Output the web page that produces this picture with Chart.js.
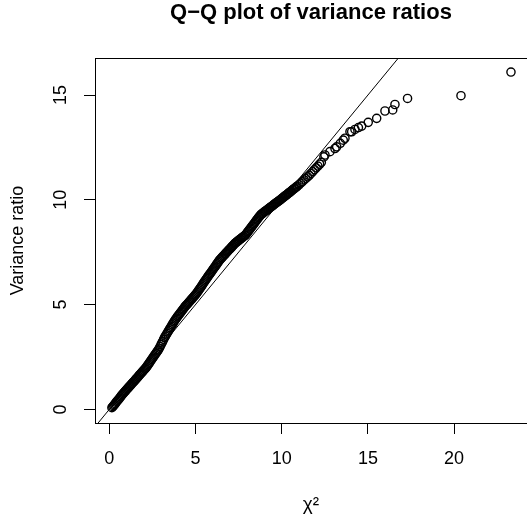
<!DOCTYPE html>
<html>
<head>
<meta charset="utf-8">
<script src="https://cdn.jsdelivr.net/npm/chart.js@4"></script>
<style>
  html, body { margin: 0; padding: 0; background: #fff; }
  #wrap { width: 527px; height: 523px; }
</style>
</head>
<body>
<div id="wrap"><canvas id="qq" width="527" height="523"></canvas></div>
<script>
// ===== Q-Q plot of variance ratios =====
const FONT = 'Liberation Sans, Arial, Helvetica, sans-serif';

// theoretical chi-square quantiles (x) and sorted variance ratios (y)
const qx = [
    0.15, 0.20, 0.25, 0.30, 0.35, 0.40, 0.45, 0.50, 0.55, 0.60, 0.65, 0.70, 0.75, 0.80,
    0.85, 0.90, 0.95, 1.00, 1.05, 1.10, 1.15, 1.20, 1.25, 1.30, 1.35, 1.40, 1.45, 1.50,
    1.55, 1.60, 1.65, 1.70, 1.75, 1.80, 1.85, 1.90, 1.95, 2.00, 2.05, 2.10, 2.15,
    2.20, 2.25, 2.30, 2.35, 2.40, 2.45, 2.50, 2.55, 2.60, 2.65, 2.70, 2.75, 2.80, 2.85,
    2.90, 2.95, 3.00, 3.05, 3.10, 3.15, 3.20, 3.25,
    3.30, 3.35, 3.40, 3.45, 3.50, 3.55, 3.60, 3.65, 3.70, 3.75, 3.80,
    3.85, 3.90, 3.95, 4.00, 4.05, 4.10, 4.15, 4.20, 4.25, 4.30, 4.35, 4.40,
    4.45, 4.50, 4.55, 4.60, 4.65, 4.70, 4.75, 4.80, 4.85, 4.90, 4.95, 5.00, 5.05,
    5.10, 5.15, 5.20, 5.25, 5.30, 5.35, 5.40, 5.45, 5.50, 5.55, 5.60, 5.65,
    5.70, 5.75, 5.80, 5.85, 5.90, 5.95, 6.00, 6.05, 6.10, 6.15, 6.20, 6.25, 6.30, 6.35, 6.40,
    6.45, 6.50, 6.55, 6.60, 6.65, 6.70, 6.75, 6.80, 6.85, 6.90, 6.95, 7.00, 7.05, 7.10, 7.15, 7.20, 7.25, 7.30,
    7.35, 7.40, 7.45, 7.50, 7.55, 7.60, 7.65, 7.70, 7.75, 7.80, 7.85, 7.90,
    7.95, 8.00, 8.05, 8.10, 8.15, 8.20, 8.25, 8.30, 8.35, 8.40, 8.45, 8.50, 8.55, 8.60, 8.65, 8.70, 8.75, 8.80,
    8.85, 8.90, 8.95, 9.00, 9.05, 9.10, 9.15, 9.20, 9.25, 9.30, 9.35, 9.40, 9.45, 9.50, 9.55, 9.60,
    9.65, 9.70, 9.75, 9.80, 9.85, 9.90,
    9.95, 10.00, 10.05, 10.10, 10.15, 10.20, 10.25, 10.30, 10.35, 10.40, 10.45, 10.50, 10.55, 10.60,
    10.65, 10.70, 10.75, 10.80, 10.85, 10.90,
    11.00, 11.10, 11.20, 11.30, 11.40, 11.50, 11.60,
    11.70, 11.80, 11.90, 12.00, 12.10, 12.20, 12.30,
    12.45, 12.51, 12.80, 13.09, 13.19, 13.40, 13.57, 13.67, 13.96, 14.06, 14.25,
    14.45, 14.64, 15.02, 15.51, 15.99, 16.44, 16.57, 17.30, 20.40, 23.30
];
const qy = [
    0.08, 0.13, 0.18, 0.23, 0.28, 0.34, 0.39, 0.44, 0.49, 0.54, 0.60, 0.65, 0.70, 0.75,
    0.80, 0.85, 0.89, 0.94, 0.99, 1.03, 1.08, 1.12, 1.17, 1.22, 1.26, 1.31, 1.35, 1.40,
    1.45, 1.49, 1.54, 1.59, 1.64, 1.68, 1.73, 1.78, 1.82, 1.87, 1.92, 1.96, 2.01,
    2.07, 2.13, 2.19, 2.25, 2.31, 2.37, 2.43, 2.49, 2.55, 2.61, 2.67, 2.73, 2.79, 2.84,
    2.92, 3.00, 3.09, 3.17, 3.25, 3.34, 3.42, 3.49,
    3.56, 3.63, 3.70, 3.77, 3.84, 3.90, 3.97, 4.04, 4.11, 4.18, 4.25,
    4.31, 4.36, 4.42, 4.47, 4.53, 4.58, 4.64, 4.69, 4.75, 4.80, 4.86, 4.91,
    4.96, 5.00, 5.05, 5.10, 5.14, 5.19, 5.24, 5.28, 5.33, 5.38, 5.43, 5.47, 5.52,
    5.58, 5.64, 5.70, 5.76, 5.82, 5.88, 5.94, 6.01, 6.07, 6.13, 6.19, 6.25,
    6.31, 6.37, 6.43, 6.48, 6.54, 6.60, 6.66, 6.72, 6.78, 6.83, 6.89, 6.95, 7.01, 7.07, 7.13,
    7.17, 7.22, 7.26, 7.31, 7.35, 7.40, 7.44, 7.49, 7.53, 7.58, 7.62, 7.66, 7.71, 7.75, 7.80, 7.84, 7.89, 7.93,
    7.96, 8.00, 8.03, 8.06, 8.10, 8.13, 8.16, 8.19, 8.23, 8.26, 8.29, 8.32,
    8.38, 8.43, 8.49, 8.54, 8.60, 8.65, 8.71, 8.76, 8.82, 8.87, 8.93, 8.98, 9.04, 9.09, 9.15, 9.20, 9.25, 9.30,
    9.33, 9.36, 9.40, 9.43, 9.46, 9.49, 9.52, 9.55, 9.59, 9.62, 9.65, 9.68, 9.71, 9.74, 9.78, 9.81,
    9.84, 9.87, 9.90, 9.93, 9.96, 9.99,
    10.02, 10.06, 10.09, 10.12, 10.16, 10.19, 10.22, 10.25, 10.29, 10.32, 10.35, 10.38, 10.42, 10.45,
    10.49, 10.52, 10.55, 10.58, 10.62, 10.65,
    10.72, 10.80, 10.87, 10.95, 11.02, 11.10, 11.17,
    11.26, 11.35, 11.44, 11.53, 11.61, 11.70, 11.79,
    12.05, 12.14, 12.30, 12.45, 12.53, 12.70, 12.85, 12.94, 13.25, 13.25, 13.36,
    13.45, 13.52, 13.70, 13.89, 14.24, 14.29, 14.55, 14.84, 14.97, 16.10
];

// reference line y = x
const refX = [-1, 25];
const refY = [-1, 25];

// axes
const xTicks = [0, 5, 10, 15, 20];
const yTicks = [0, 5, 10, 15];
const xRange = [-0.83, 24.23];
const yRange = [-0.65, 16.77];

const points = qx.map((x, i) => ({ x, y: qy[i] }));
const refLine = refX.map((x, i) => ({ x, y: refY[i] }));

// box round the plot region + rotated y tick labels (R style)
const rBox = {
    id: 'rBox',
    afterDraw(chart) {
        const { ctx, chartArea: a } = chart;
        ctx.save();
        ctx.strokeStyle = '#000';
        ctx.lineWidth = 1;
        ctx.strokeRect(a.left + 0.5, a.top + 0.5, a.right - a.left, a.bottom - a.top);
        const ys = chart.scales.y;
        ctx.fillStyle = '#000';
        ctx.font = '18px ' + FONT;
        ctx.textAlign = 'center';
        ctx.textBaseline = 'middle';
        yTicks.forEach(v => {
            ctx.save();
            ctx.translate(61, ys.getPixelForValue(v));
            ctx.rotate(-Math.PI / 2);
            ctx.fillText(String(v), 0, 0);
            ctx.restore();
        });
        ctx.restore();
    }
};

new Chart(document.getElementById('qq').getContext('2d'), {
    type: 'scatter',
    data: {
        datasets: [
            { data: points, showLine: false, pointRadius: 4.1, pointBorderWidth: 1.4,
              pointBackgroundColor: 'rgba(0,0,0,0)', pointBorderColor: '#000' },
            { type: 'line', data: refLine, borderColor: '#000', borderWidth: 1,
              pointRadius: 0, fill: false, clip: 0 }
        ]
    },
    options: {
        responsive: false,
        animation: false,
        devicePixelRatio: 1,
        events: [],
        layout: { padding: 0, autoPadding: false },
        plugins: {
            legend: { display: false },
            tooltip: { enabled: false },
            title: {
                display: true, fullSize: false,
                text: 'Q\u2212Q plot of variance ratios',
                color: '#000',
                font: { family: FONT, size: 22, weight: 'bold', lineHeight: 1.2 },
                padding: { top: 0, bottom: 31.6 }
            }
        },
        scales: {
            x: {
                type: 'linear', min: xRange[0], max: xRange[1],
                afterBuildTicks: s => { s.ticks = xTicks.map(v => ({ value: v })); },
                afterFit: s => { s.height = 100; },
                grid: { drawOnChartArea: false, drawTicks: true, tickLength: 11, color: '#000', lineWidth: 1 },
                border: { display: false },
                ticks: { color: '#000', padding: 14, font: { family: FONT, size: 18 }, maxRotation: 0 },
                title: { display: true, text: '\u03C7\u00B2', color: '#000',
                         font: { family: FONT, size: 19, lineHeight: 1.2 }, padding: { top: 0, bottom: 7 } }
            },
            y: {
                type: 'linear', min: yRange[0], max: yRange[1],
                afterBuildTicks: s => { s.ticks = yTicks.map(v => ({ value: v })); },
                afterFit: s => { s.width = 95; },
                grid: { drawOnChartArea: false, drawTicks: true, tickLength: 11, color: '#000', lineWidth: 1 },
                border: { display: false },
                ticks: { display: false },
                title: { display: true, text: 'Variance ratio', color: '#000',
                         font: { family: FONT, size: 18, lineHeight: 1.2 }, padding: { top: 7, bottom: 0 } }
            }
        }
    },
    plugins: [rBox]
});
</script>
</body>
</html>
